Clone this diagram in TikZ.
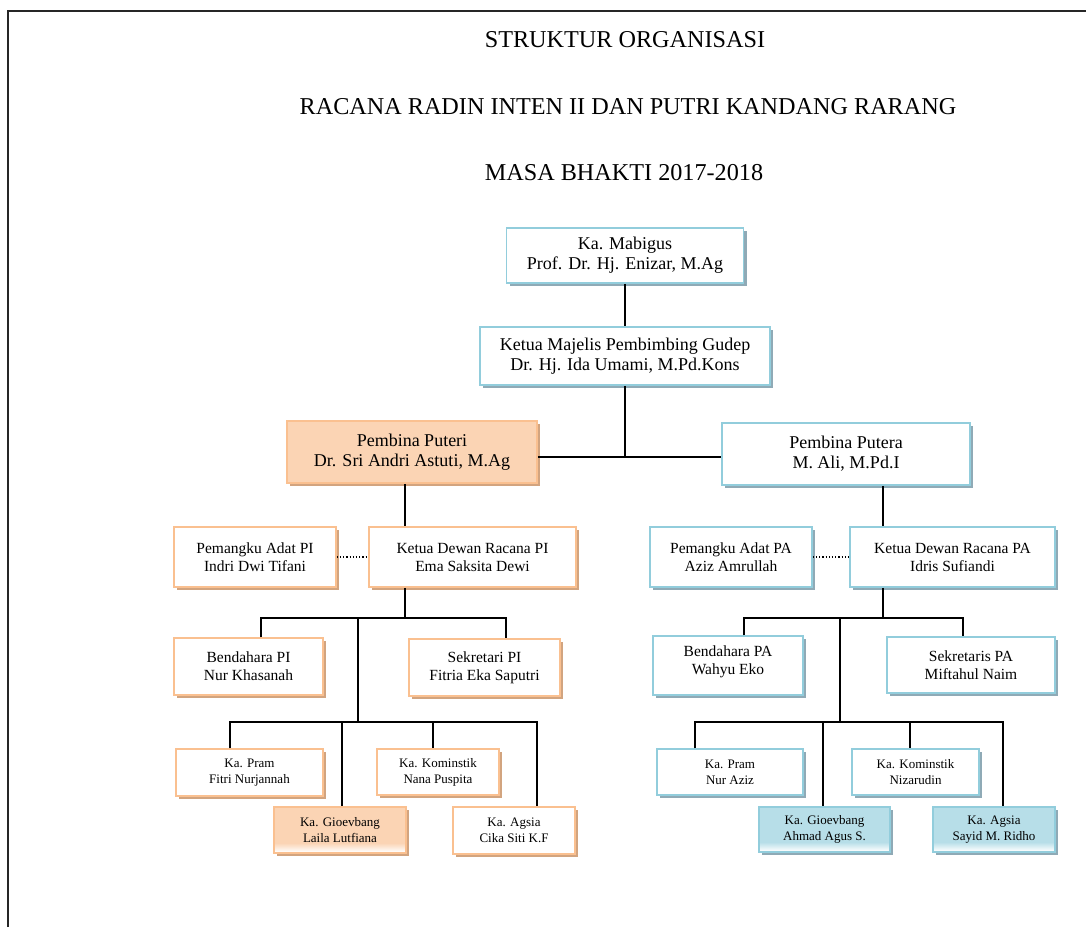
\documentclass[tikz,border=0pt]{standalone}
\usepackage{fontspec}
\setmainfont{Liberation Serif}
\usetikzlibrary{shadows}
\definecolor{obord}{HTML}{FAC090}
\definecolor{ofill}{HTML}{FBD4B4}
\definecolor{oshad}{HTML}{D2A47F}
\definecolor{bbord}{HTML}{92CDDC}
\definecolor{bfill}{HTML}{B7DEE8}
\definecolor{bshad}{HTML}{8FAAB6}
\pgfdeclareverticalshading{ofade}{100bp}{color(0bp)=(white); color(26bp)=(white); color(36bp)=(ofill); color(100bp)=(ofill)}
\pgfdeclareverticalshading{bfade}{100bp}{color(0bp)=(white); color(26bp)=(white); color(36bp)=(bfill); color(100bp)=(bfill)}
\tikzset{
  base/.style={align=center, inner sep=0pt, line width=1.5pt, fill=white},
  obox/.style={base, draw=obord, general shadow={fill=oshad, shadow xshift=3pt, shadow yshift=-3pt}},
  bbox/.style={base, draw=bbord, general shadow={fill=bshad, shadow xshift=3pt, shadow yshift=-3pt}},
  big/.style={font=\fontsize{18}{20}\selectfont},
  med/.style={font=\fontsize{15.5}{18}\selectfont},
  sml/.style={font=\fontsize{13}{16}\selectfont},
  titl/.style={font=\fontsize{24.2}{26}\selectfont},
  conn/.style={line width=1.5pt, black},
  dotconn/.style={line width=1.2pt, black, dotted},
}
\begin{document}
\begin{tikzpicture}[x=1pt,y=-1pt]
\useasboundingbox (0,0) rectangle (1086,927);
\draw[line width=2pt, black!85] (8,927) -- (8,11) -- (1086,11);

\node[titl] (t1) at (625,40) {STRUKTUR ORGANISASI};
\node[titl] (t2) at (628,107) {RACANA RADIN INTEN II DAN PUTRI KANDANG RARANG};
\node[titl] (t3) at (624,173) {MASA BHAKTI 2017-2018};

\node[bbox,big,minimum width=237pt,minimum height=55pt] (mab) at (625,255.5) {Ka. Mabigus\\Prof. Dr. Hj. Enizar, M.Ag};
\node[bbox,big,minimum width=290pt,minimum height=58pt] (maj) at (625,356) {Ketua Majelis Pembimbing Gudep\\Dr. Hj. Ida Umami, M.Pd.Kons};
\node[obox,big,fill=ofill,minimum width=250pt,minimum height=62pt] (puteri) at (412,452) {Pembina Puteri\\Dr. Sri Andri Astuti, M.Ag};
\node[bbox,big,minimum width=248pt,minimum height=62pt] (putera) at (846,454) {Pembina Putera\\M. Ali, M.Pd.I};

\node[obox,med,minimum width=162pt,minimum height=60pt] (pemPI) at (255,557) {Pemangku Adat PI\\Indri Dwi Tifani};
\node[obox,med,minimum width=207pt,minimum height=60pt] (ketPI) at (472.5,557) {Ketua Dewan Racana PI\\Ema Saksita Dewi};
\node[bbox,med,minimum width=162pt,minimum height=60pt] (pemPA) at (731,557) {Pemangku Adat PA\\Aziz Amrullah};
\node[bbox,med,minimum width=205pt,minimum height=60pt] (ketPA) at (952.5,557) {Ketua Dewan Racana PA\\Idris Sufiandi};

\node[obox,med,minimum width=149pt,minimum height=57pt] (benPI) at (248.5,666.5) {Bendahara PI\\Nur Khasanah};
\node[obox,med,minimum width=151pt,minimum height=57pt] (sekPI) at (484.5,667.5) {Sekretari PI\\Fitria Eka Saputri};
\node[bbox,med,minimum width=150pt,minimum height=59pt] (benPA) at (728,665.5) {};
\node[med,align=center,anchor=north] (benPAt) at (728,642) {Bendahara PA\\Wahyu Eko};
\node[bbox,med,minimum width=168pt,minimum height=56pt] (sekPA) at (971,665) {Sekretaris PA\\Miftahul Naim};

\node[obox,sml,minimum width=147pt,minimum height=47pt] (pramPI) at (249.5,772.5) {Ka. Pram\\Fitri Nurjannah};
\node[obox,sml,shading=ofade,minimum width=132pt,minimum height=46pt] (gioPI) at (340,830) {Ka. Gioevbang\\Laila Lutfiana};
\node[obox,sml,minimum width=122pt,minimum height=46pt] (komPI) at (438,772) {Ka. Kominstik\\Nana Puspita};
\node[obox,sml,minimum width=122pt,minimum height=47pt] (agsPI) at (514,830.5) {Ka. Agsia\\Cika Siti K.F};

\node[bbox,sml,minimum width=146pt,minimum height=46pt] (pramPA) at (730,772) {Ka. Pram\\Nur Aziz};
\node[bbox,sml,shading=bfade,minimum width=131pt,minimum height=45pt] (gioPA) at (824.5,829.5) {Ka. Gioevbang\\Ahmad Agus S.};
\node[bbox,sml,minimum width=127pt,minimum height=46pt] (komPA) at (915.5,772) {Ka. Kominstik\\Nizarudin};
\node[bbox,sml,shading=bfade,minimum width=122pt,minimum height=45pt] (agsPA) at (994,829.5) {Ka. Agsia\\Sayid M. Ridho};

% helper coordinates
\coordinate (J) at (625,457);
\coordinate (tPI) at (405,0);
\coordinate (tPA) at (883,0);
\coordinate (hPI) at (405,618);
\coordinate (hPA) at (883,618);
\coordinate (mPI) at (358,618);
\coordinate (mPA) at (840,618);
\coordinate (lPI) at (358,722);
\coordinate (lPA) at (840,722);
% PI bars
\coordinate (b1L) at (261,618);
\coordinate (b1R) at (506,618);
\coordinate (c1a) at (230,722);
\coordinate (c1b) at (342,722);
\coordinate (c1c) at (433,722);
\coordinate (c1d) at (537,722);
% PA bars
\coordinate (b2L) at (744,618);
\coordinate (b2R) at (963,618);
\coordinate (c2a) at (695,722);
\coordinate (c2b) at (823,722);
\coordinate (c2c) at (910,722);
\coordinate (c2d) at (1003,722);

% top connectors
\draw[conn] (mab.south) -- (maj.north);
\draw[conn] (maj.south) -- (J);
\draw[conn] (puteri.east |- J) -- (putera.west |- J);
\draw[conn] (puteri.south -| tPI) -- (ketPI.north -| tPI);
\draw[conn] (putera.south -| tPA) -- (ketPA.north -| tPA);
\draw[dotconn] (pemPI.east) -- (ketPI.west);
\draw[dotconn] (pemPA.east) -- (ketPA.west);

% PI branch
\draw[conn] (ketPI.south -| tPI) -- (hPI);
\draw[conn] (benPI.north -| b1L) -- (b1L) -- (b1R) -- (sekPI.north -| b1R);
\draw[conn] (mPI) -- (lPI);
\draw[conn] (pramPI.north -| c1a) -- (c1a) -- (c1d) -- (agsPI.north -| c1d);
\draw[conn] (c1b) -- (gioPI.north -| c1b);
\draw[conn] (c1c) -- (komPI.north -| c1c);

% PA branch
\draw[conn] (ketPA.south -| tPA) -- (hPA);
\draw[conn] (benPA.north -| b2L) -- (b2L) -- (b2R) -- (sekPA.north -| b2R);
\draw[conn] (mPA) -- (lPA);
\draw[conn] (pramPA.north -| c2a) -- (c2a) -- (c2d) -- (agsPA.north -| c2d);
\draw[conn] (c2b) -- (gioPA.north -| c2b);
\draw[conn] (c2c) -- (komPA.north -| c2c);
\end{tikzpicture}
\end{document}
